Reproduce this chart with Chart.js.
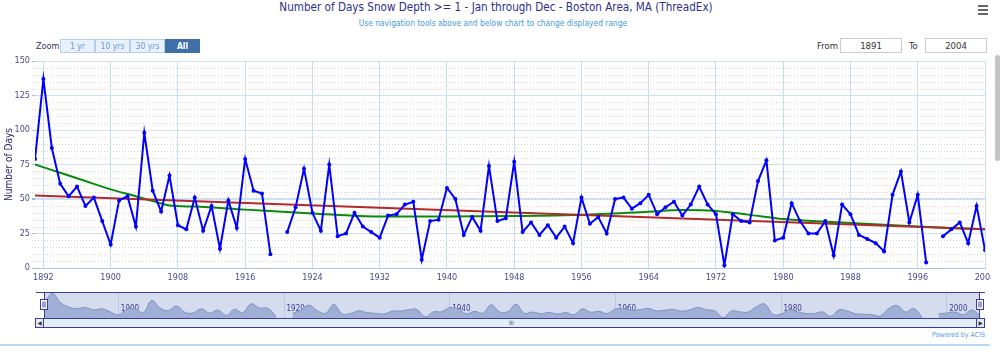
<!DOCTYPE html>
<html>
<head>
<meta charset="utf-8">
<script src="https://cdn.jsdelivr.net/npm/chart.js@4"></script>
<style>
body { margin: 0; background: #fff; }
#page { position: relative; width: 1000px; height: 354px; overflow: hidden;
  font-family: "Liberation Sans Narrow", "DejaVu Sans Condensed", "Liberation Sans", sans-serif; }
.abs { position: absolute; }
#title { left: 0; width: 992px; top: 0; text-align: center; font-size: 11.6px; line-height: 14px; color: #2e2e8c; }
#sub { left: 0; width: 986px; top: 18px; text-align: center; font-size: 8.4px; line-height: 11px; color: #3f9bd8; }
#zoomLbl { left: 36px; top: 40px; font-size: 9px; line-height: 12px; color: #333366; }
.btn { top: 39px; width: 33px; height: 12px; border: 1px solid #b3cfe9; background: #e8f1fb; color: #6a9bd4;
  font-size: 8.5px; line-height: 12px; text-align: center; }
.btn.on { background: #3e6fa6; border-color: #3e6fa6; color: #fff; font-weight: bold; }
.lbl { top: 40px; font-size: 9.5px; line-height: 12px; color: #333; }
.box { top: 38px; width: 60px; height: 13px; border: 1px solid #ccc; font-size: 9.5px; line-height: 13px; text-align: center; color: #333; }
#menu { left: 978px; top: 5px; width: 10px; }
#menu div { height: 2px; background: #666; margin-bottom: 2px; }
#main { left: 0; top: 55px; width: 991px; height: 231px; overflow: hidden; }
#nav { left: 0; top: 290px; width: 1000px; height: 28px; }
#scroll { left: 35px; top: 318px; width: 948px; height: 8px; border: 1px solid #3c3ca0; background: #e4eefa; }
#scroll .arr { position: absolute; top: 0; width: 7px; height: 8px; background: #e4eefa; font-size: 6px; line-height: 8px; text-align: center; color: #333; }
#grip { left: 473px; top: 0; font-size: 6px; line-height: 8px; color: #333; }
#acis { left: 900px; width: 85px; top: 331px; text-align: right; font-size: 7px; color: #5b9bd5; }
#bline { left: 0; top: 344px; width: 990px; height: 2px; background: #b9d8f2; }
#vscroll { left: 995px; top: 55px; width: 5px; height: 106px; background: #c4c4c4; border-radius: 3px; }
</style>
</head>
<body>
<div id="page">
  <div id="title" class="abs">Number of Days Snow Depth &gt;= 1 - Jan through Dec - Boston Area, MA (ThreadEx)</div>
  <div id="sub" class="abs">Use navigation tools above and below chart to change displayed range</div>
  <div id="menu" class="abs"><div></div><div></div><div></div></div>
  <div id="zoomLbl" class="abs">Zoom</div>
  <div class="abs btn" style="left:60px">1 yr</div>
  <div class="abs btn" style="left:95px">10 yrs</div>
  <div class="abs btn" style="left:130px">30 yrs</div>
  <div class="abs btn on" style="left:165px">All</div>
  <div class="abs lbl" style="left:817px">From</div>
  <div class="abs box" style="left:840px">1891</div>
  <div class="abs lbl" style="left:909px">To</div>
  <div class="abs box" style="left:925px">2004</div>
  <div id="main" class="abs"><canvas id="chart" width="1000" height="231"></canvas></div>
  <div id="nav" class="abs"><canvas id="navChart" width="1000" height="28"></canvas></div>
  <div id="scroll" class="abs">
    <div class="arr" style="left:0;border-right:1px solid #3c3ca0">&#9664;</div>
    <div id="grip" class="abs">III</div>
    <div class="arr" style="right:0;border-left:1px solid #3c3ca0">&#9654;</div>
  </div>
  <div id="acis" class="abs">Powered by ACIS</div>
  <div id="bline" class="abs"></div>
  <div id="vscroll" class="abs"></div>
</div>
<script>
// yearly values, 1891-2004 (null = missing year)
var years = [];
for (var yr = 1891; yr <= 2004; yr++) years.push(yr);

var snowDays = [
  79, 137, 87, 61, 52, 59, 45, 51, 34, 17,
  49, 52, 30, 98, 56, 41, 67, 31, 28, 51,
  27, 45, 14, 49, 29, 79, 56, 54, 10, null,
  26, 44, 72, 40, 27, 75, 23, 25, 40, 30,
  26, 22, 38, 39, 46, 48, 6, 34, 35, 58,
  50, 24, 37, 27, 74, 34, 36, 77, 26, 33,
  24, 31, 22, 30, 18, 51, 32, 37, 25, 50,
  51, 43, 47, 53, 39, 44, 48, 38, 46, 59,
  46, 39, 2, 39, 34, 33, 63, 78, 20, 22,
  47, 34, 25, 25, 34, 9, 46, 39, 24, 21,
  18, 12, 53, 70, 33, 53, 4, null, 23, 28,
  33, 18, 45, 13
];

// linear trend (red)
var trendYears = [1891, 2004];
var trendValues = [52.6, 28];

// smoothed curve (green), read at a few years
var smoothYears = [1891, 1894, 1897, 1900, 1903, 1905, 1907, 1910, 1916, 1924, 1932, 1940, 1948, 1956, 1964, 1968, 1972, 1976, 1980, 1988, 1996, 2004];
var smoothValues = [75, 69, 63, 57, 52, 48.5, 45.3, 44.5, 42.3, 39.5, 37.3, 37.3, 37.6, 38.5, 40.8, 42, 41.3, 38.5, 35.5, 32.6, 30, 28];

var tickYears = [1892, 1900, 1908, 1916, 1924, 1932, 1940, 1948, 1956, 1964, 1972, 1980, 1988, 1996, 2004];
var navTickYears = [1900, 1920, 1940, 1960, 1980, 2000];

function pairs(xs, ys) {
  return xs.map(function (x, i) { return { x: x, y: ys[i] }; });
}

var fontFam = '"Liberation Sans Narrow", "DejaVu Sans Condensed", "Liberation Sans", sans-serif';
Chart.defaults.font.family = fontFam;

var minorGrid = {
  id: 'minorGrid',
  beforeDatasetsDraw: function (chart) {
    var ctx = chart.ctx, y = chart.scales.y, a = chart.chartArea;
    ctx.save();
    ctx.strokeStyle = '#d6d6d6';
    ctx.lineWidth = 1;
    ctx.setLineDash([1, 2]);
    for (var v = y.min + 5; v < y.max; v += 5) {
      if (v % 25 === 0) continue;
      var py = Math.round(y.getPixelForValue(v)) + 0.5;
      ctx.beginPath();
      ctx.moveTo(a.left - 3, py);
      ctx.lineTo(a.right, py);
      ctx.stroke();
    }
    ctx.restore();
  }
};

new Chart(document.getElementById('chart'), {
  type: 'line',
  data: {
    datasets: [{
      data: pairs(years, snowDays),
      borderColor: '#0000ff',
      backgroundColor: '#0000ff',
      borderWidth: 2,
      pointRadius: 2,
      pointBackgroundColor: '#0000ff',
      pointBorderWidth: 0,
      spanGaps: false
    }, {
      data: pairs(trendYears, trendValues),
      borderColor: '#b22a2a',
      borderWidth: 2,
      pointRadius: 0
    }, {
      data: pairs(smoothYears, smoothValues),
      borderColor: '#0a8a0a',
      borderWidth: 2,
      pointRadius: 0,
      cubicInterpolationMode: 'monotone'
    }]
  },
  options: {
    responsive: false,
    animation: false,
    layout: { padding: { left: 0, right: 15, top: 6, bottom: 0 } },
    plugins: { legend: { display: false }, tooltip: { enabled: false } },
    scales: {
      x: {
        type: 'linear',
        min: 1891,
        max: 2004,
        afterBuildTicks: function (s) { s.ticks = tickYears.map(function (v) { return { value: v }; }); },
        afterFit: function (s) { s.height = 18; s.paddingLeft = 0; s.paddingRight = 0; },
        grid: { color: '#c9ddf1', drawTicks: false },
        border: { color: '#a9c8e8' },
        ticks: {
          autoSkip: false, maxRotation: 0, padding: 4,
          color: '#4a4a8c', font: { size: 9 },
          callback: function (v) { return String(v); }
        }
      },
      y: {
        min: 0,
        max: 150,
        afterFit: function (s) { s.width = 35; s.paddingTop = 0; s.paddingBottom = 0; },
        grid: {
          color: '#cfe0f2',
          lineWidth: function (c) { return c.tick && c.tick.value === 50 ? 2 : 1; },
          tickLength: 3,
          tickColor: '#b0b8d0'
        },
        border: { display: false },
        title: { display: true, text: 'Number of Days', color: '#1f1f70', font: { size: 10 }, padding: { top: 3, bottom: 0 } },
        ticks: { stepSize: 25, padding: 2, color: '#4a4a8c', font: { size: 9 } }
      }
    }
  },
  plugins: [minorGrid]
});

var navDecor = {
  id: 'navDecor',
  beforeDraw: function (chart) {
    var ctx = chart.ctx, a = chart.chartArea;
    ctx.save();
    ctx.fillStyle = '#d5dcee';
    ctx.fillRect(a.left, a.top, a.right - a.left, a.bottom - a.top);
    ctx.restore();
  },
  afterDraw: function (chart) {
    var ctx = chart.ctx, a = chart.chartArea;
    ctx.save();
    ctx.strokeStyle = '#3c3ca0';
    ctx.lineWidth = 1;
    ctx.beginPath();
    ctx.moveTo(a.left - 8, a.top + 0.5);
    ctx.lineTo(a.right + 5, a.top + 0.5);
    ctx.moveTo(a.left + 0.5, a.top);
    ctx.lineTo(a.left + 0.5, a.bottom);
    ctx.moveTo(a.right - 0.5, a.top);
    ctx.lineTo(a.right - 0.5, a.bottom);
    ctx.stroke();
    [a.left, a.right].forEach(function (hx) {
      var x0 = Math.round(hx) - 3.5, y0 = a.top + 7.5;
      ctx.fillStyle = '#fff';
      ctx.fillRect(x0, y0, 7, 10);
      ctx.strokeRect(x0, y0, 7, 10);
      ctx.beginPath();
      ctx.moveTo(x0 + 2.5, y0 + 2); ctx.lineTo(x0 + 2.5, y0 + 8);
      ctx.moveTo(x0 + 4.5, y0 + 2); ctx.lineTo(x0 + 4.5, y0 + 8);
      ctx.stroke();
    });
    ctx.restore();
  }
};

new Chart(document.getElementById('navChart'), {
  type: 'line',
  data: {
    datasets: [{
      data: pairs(years, snowDays),
      borderColor: '#7f92c4',
      backgroundColor: '#9fafd6',
      borderWidth: 1,
      fill: 'origin',
      pointRadius: 0,
      tension: 0.4,
      spanGaps: false
    }]
  },
  options: {
    responsive: false,
    animation: false,
    layout: { padding: { left: 44, right: 20, top: 2, bottom: 0 } },
    plugins: { legend: { display: false }, tooltip: { enabled: false } },
    scales: {
      x: {
        type: 'linear',
        min: 1891,
        max: 2004,
        z: 1,
        afterBuildTicks: function (s) { s.ticks = navTickYears.map(function (v) { return { value: v }; }); },
        afterFit: function (s) { s.height = 0; s.paddingLeft = 0; s.paddingRight = 0; },
        grid: { color: '#bcc7e3', drawTicks: false },
        border: { display: false },
        ticks: {
          autoSkip: false, maxRotation: 0, mirror: true, padding: 4, align: 'start',
          color: '#3c3c8c', font: { size: 8 },
          callback: function (v) { return ' ' + v; }
        }
      },
      y: { display: false, min: 0, max: 145 }
    }
  },
  plugins: [navDecor]
});
</script>
</body>
</html>
